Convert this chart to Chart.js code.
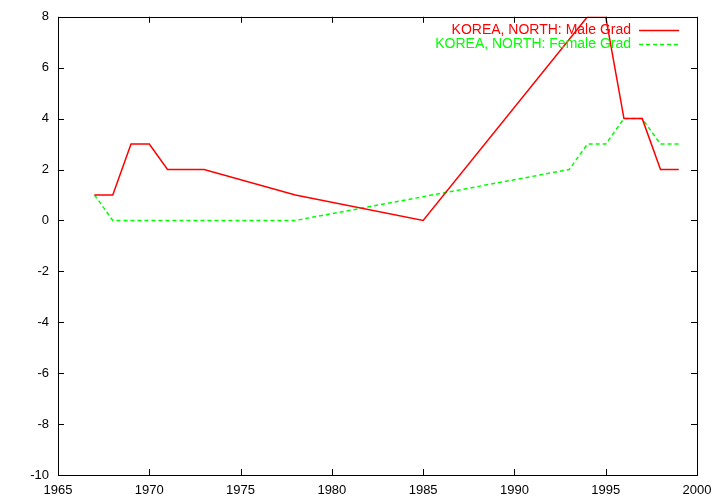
<!DOCTYPE html>
<html>
<head>
<meta charset="utf-8">
<script src="https://cdn.jsdelivr.net/npm/chart.js@4/dist/chart.umd.min.js"></script>
<style>
  html, body { margin: 0; padding: 0; background: #fff; }
  #wrap { width: 720px; height: 504px; }
</style>
</head>
<body>
<div id="wrap"><canvas id="chart" width="720" height="504"></canvas></div>
<script>
// Data
const maleYears = [1967, 1968, 1969, 1970, 1971, 1973, 1978, 1985, 1994, 1995, 1996, 1997, 1998, 1999];
const maleValues = [1, 1, 3, 3, 2, 2, 1, 0, 8, 8, 4, 4, 2, 2];
const femaleYears = [1967, 1968, 1978, 1993, 1994, 1995, 1996, 1997, 1998, 1999];
const femaleValues = [1, 0, 0, 2, 3, 3, 4, 4, 3, 3];
const seriesLabels = ['KOREA, NORTH: Male Grad', 'KOREA, NORTH: Female Grad'];
const seriesColors = ['#ff0000', '#00ff00'];
const xMin = 1965, xMax = 2000, xStep = 5;
const yMin = -10, yMax = 8, yStep = 2;

const FAMILY = '"Liberation Sans", Arial, sans-serif';

const toPoints = (xs, ys) => xs.map((x, i) => ({ x, y: ys[i] }));

// gnuplot-style frame with inward ticks on all four sides
const framePlugin = {
  id: 'frame',
  afterDraw(chart) {
    const { ctx, chartArea: a, scales } = chart;
    const len = 6;
    ctx.save();
    ctx.strokeStyle = '#000';
    ctx.lineWidth = 1;
    ctx.beginPath();
    scales.x.ticks.forEach((t) => {
      const px = Math.round(scales.x.getPixelForValue(t.value)) + 0.5;
      ctx.moveTo(px, a.bottom); ctx.lineTo(px, a.bottom - len);
      ctx.moveTo(px, a.top); ctx.lineTo(px, a.top + len);
    });
    scales.y.ticks.forEach((t) => {
      const py = Math.round(scales.y.getPixelForValue(t.value)) + 0.5;
      ctx.moveTo(a.left, py); ctx.lineTo(a.left + len, py);
      ctx.moveTo(a.right, py); ctx.lineTo(a.right - len, py);
    });
    ctx.stroke();
    ctx.strokeRect(Math.round(a.left) + 0.5, Math.round(a.top) + 0.5,
      Math.round(a.right - a.left), Math.round(a.bottom - a.top));
    ctx.restore();
  },
};

// legend in the top right: text right aligned, sample line after it
const keyPlugin = {
  id: 'key',
  afterDatasetsDraw(chart) {
    const { ctx } = chart;
    ctx.save();
    ctx.font = '14px ' + FAMILY;
    ctx.textAlign = 'right';
    ctx.textBaseline = 'middle';
    chart.data.datasets.forEach((ds, i) => {
      const y = 30 + i * 14;
      ctx.fillStyle = ds.borderColor;
      ctx.fillText(ds.label, 631, y);
      ctx.strokeStyle = ds.borderColor;
      ctx.lineWidth = ds.borderWidth;
      ctx.setLineDash(ds.borderDash || []);
      ctx.beginPath();
      ctx.moveTo(639, y + 0.5);
      ctx.lineTo(679, y + 0.5);
      ctx.stroke();
    });
    ctx.restore();
  },
};

new Chart(document.getElementById('chart'), {
  type: 'line',
  data: {
    datasets: [
      {
        label: seriesLabels[0],
        data: toPoints(maleYears, maleValues),
        borderColor: seriesColors[0],
        borderWidth: 1.5,
        pointRadius: 0,
        tension: 0,
        fill: false,
      },
      {
        label: seriesLabels[1],
        data: toPoints(femaleYears, femaleValues),
        borderColor: seriesColors[1],
        borderWidth: 1.5,
        borderDash: [4, 3],
        pointRadius: 0,
        tension: 0,
        fill: false,
      },
    ],
  },
  options: {
    responsive: false,
    devicePixelRatio: 1,
    animation: false,
    layout: { padding: { top: 16, right: 23, left: 0, bottom: 0 } },
    plugins: { legend: { display: false }, tooltip: { enabled: false } },
    scales: {
      x: {
        type: 'linear',
        min: xMin,
        max: xMax,
        grid: { display: false, drawTicks: false },
        border: { display: false },
        afterFit: (s) => { s.height = 29; },
        ticks: {
          stepSize: xStep,
          color: '#000',
          padding: 8,
          maxRotation: 0,
          font: { family: FAMILY, size: 13 },
          callback: (v) => String(v),
        },
      },
      y: {
        min: yMin,
        max: yMax,
        grid: { display: false, drawTicks: false },
        border: { display: false },
        afterFit: (s) => { s.width = 58; },
        ticks: {
          stepSize: yStep,
          color: '#000',
          padding: 9,
          font: { family: FAMILY, size: 13 },
        },
      },
    },
  },
  plugins: [framePlugin, keyPlugin],
});
</script>
</body>
</html>
